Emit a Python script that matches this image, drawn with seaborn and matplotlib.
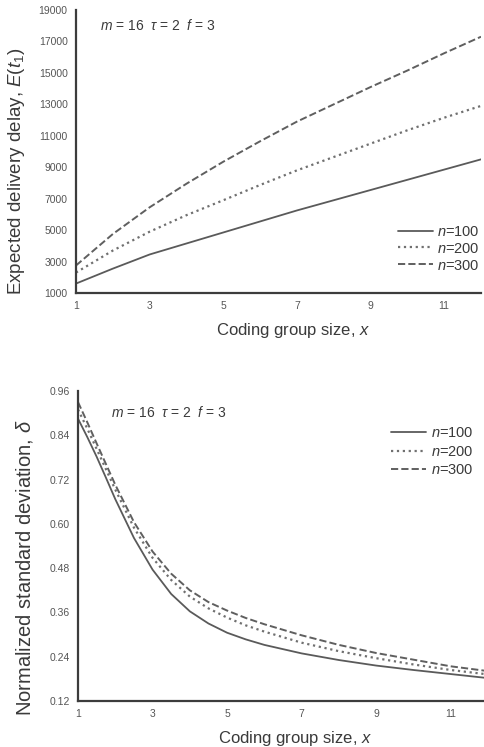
import numpy as np
import pandas as pd
import matplotlib
matplotlib.use("Agg")
import matplotlib.pyplot as plt
import seaborn as sns

# ---------------- data ----------------
x_top = [1, 2, 3, 4, 5, 6, 7, 8, 9, 10, 11, 12]
delay_n100 = [1600, 2550, 3450, 4150, 4850, 5550, 6250, 6900, 7550, 8200, 8850, 9500]
delay_n200 = [2300, 3700, 4900, 5950, 6900, 7870, 8800, 9650, 10500, 11350, 12150, 12900]
delay_n300 = [2750, 4750, 6450, 7950, 9350, 10650, 11900, 13000, 14100, 15150, 16250, 17300]

x_bot = [1, 1.25, 1.5, 1.75, 2, 2.5, 3, 3.5, 4, 4.5, 5, 5.5, 6, 7, 8, 9, 10, 11, 12]
std_n100 = [0.885, 0.835, 0.782, 0.725, 0.667, 0.562, 0.476, 0.410, 0.363, 0.330, 0.305,
            0.287, 0.272, 0.249, 0.231, 0.216, 0.204, 0.193, 0.182]
std_n200 = [0.910, 0.858, 0.803, 0.748, 0.693, 0.590, 0.508, 0.448, 0.403, 0.371, 0.346,
            0.325, 0.308, 0.278, 0.255, 0.236, 0.219, 0.204, 0.192]
std_n300 = [0.930, 0.875, 0.818, 0.762, 0.706, 0.605, 0.525, 0.465, 0.420, 0.388, 0.365,
            0.345, 0.328, 0.298, 0.272, 0.250, 0.232, 0.214, 0.201]

series_labels = ["$n$=100", "$n$=200", "$n$=300"]
x_ticks = [1, 3, 5, 7, 9, 11]
top_yticks = [1000, 3000, 5000, 7000, 9000, 11000, 13000, 15000, 17000, 19000]
bot_yticks = [0.12, 0.24, 0.36, 0.48, 0.60, 0.72, 0.84, 0.96]
annot = "$m$ = 16  $\\tau$ = 2  $f$ = 3"

# ---------------- style ----------------
sns.set_style("white")
plt.rcParams["font.family"] = ["Liberation Sans", "DejaVu Sans"]
plt.rcParams["mathtext.fontset"] = "custom"
plt.rcParams["mathtext.rm"] = "Liberation Sans"
plt.rcParams["mathtext.it"] = "Liberation Sans:italic"

line_styles = [("-", "#5a5a5a", 1.3), (":", "#707070", 1.6), ("--", "#5f5f5f", 1.4)]
dash_patterns = [None, (1, 2.2), (4, 3)]
text_color = "#3a3a3a"
tick_color = "#555555"

fig = plt.figure(figsize=(4.85, 7.47), dpi=100)
ax1 = fig.add_axes([76/485, 1-293/747, (481-76)/485, (293-10)/747])
ax2 = fig.add_axes([78/485, 1-701/747, (488-78)/485, (701-391)/747])


def draw(ax, x, ys):
    for y, lab, (ls, col, lw), dp in zip(ys, series_labels, line_styles, dash_patterns):
        df = pd.DataFrame({"x": x, "y": y})
        kw = {}
        if dp is not None:
            kw["dashes"] = dp
        sns.lineplot(data=df, x="x", y="y", ax=ax, color=col, linewidth=lw,
                     linestyle=ls, label=lab, **kw)


def style_axes(ax):
    for s in ["top", "right"]:
        ax.spines[s].set_visible(False)
    for s in ["left", "bottom"]:
        ax.spines[s].set_linewidth(1.6)
        ax.spines[s].set_color("#3c3c3c")
    ax.tick_params(which="major", direction="out", length=4, width=1.2,
                   colors="#3c3c3c", labelsize=7.5, labelcolor=tick_color, pad=2)
    ax.tick_params(which="minor", direction="out", length=2.5, width=1.0,
                   colors="#3c3c3c")
    ax.set_xlim(1, 12)
    ax.set_xticks(x_ticks)
    ax.set_xticks(list(range(2, 13, 2)), minor=True)
    ax.set_xlabel("Coding group size, $x$", fontsize=12, color=text_color)
    ax.grid(False)


draw(ax1, x_top, [delay_n100, delay_n200, delay_n300])
style_axes(ax1)
ax1.set_ylim(1000, 19000)
ax1.set_yticks(top_yticks)
ax1.set_yticks(list(range(2000, 19000, 2000)), minor=True)
ax1.set_yticklabels([str(v) for v in top_yticks])
ax1.set_ylabel("Expected delivery delay, $E(t_1)$", fontsize=13.5, color=text_color)
ax1.yaxis.set_label_coords(-0.12, 0.43)
ax1.xaxis.set_label_coords(0.535, -0.10)
ax1.text(0.06, 0.93, annot, transform=ax1.transAxes, fontsize=10, color=text_color)
ax1.legend(loc="upper left", bbox_to_anchor=(0.78, 0.262), frameon=False,
           fontsize=10.5, handlelength=2.4, handletextpad=0.3, labelspacing=0.2,
           borderaxespad=0, labelcolor=text_color)

draw(ax2, x_bot, [std_n100, std_n200, std_n300])
style_axes(ax2)
ax2.set_ylim(0.12, 0.96)
ax2.set_yticks(bot_yticks)
ax2.set_yticks([0.18, 0.30, 0.42, 0.54, 0.66, 0.78, 0.90], minor=True)
ax2.set_yticklabels([f"{v:.2f}" for v in bot_yticks])
ax2.set_ylabel("Normalized standard deviation, $\\delta$", fontsize=14.5, color=text_color)
ax2.yaxis.set_label_coords(-0.105, 0.43)
ax2.xaxis.set_label_coords(0.53, -0.09)
ax2.text(0.08, 0.915, annot, transform=ax2.transAxes, fontsize=10, color=text_color)
ax2.legend(loc="upper left", bbox_to_anchor=(0.75, 0.905), frameon=False,
           fontsize=10.5, handlelength=2.4, handletextpad=0.3, labelspacing=0.3,
           borderaxespad=0, labelcolor=text_color)

fig.savefig("out.png", dpi=100)
